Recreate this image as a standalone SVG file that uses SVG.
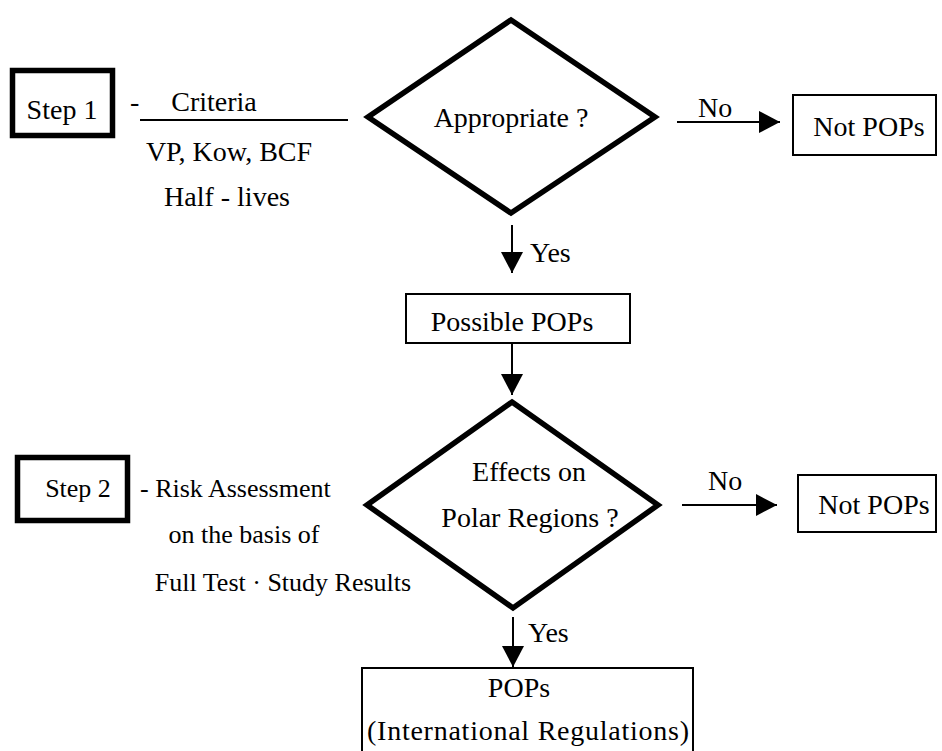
<svg xmlns="http://www.w3.org/2000/svg" width="942" height="751" viewBox="0 0 942 751">
<style>
.t28{font-size:28px}
.t26{font-size:26px}
.c{text-anchor:middle}
.thick{fill:#fff;stroke:#000;stroke-width:5.5}
.box{fill:#fff;stroke:#000;stroke-width:2}
.con{stroke:#000;stroke-width:2;fill:none}
</style>
<defs>
<marker id="ah" markerUnits="userSpaceOnUse" markerWidth="22" markerHeight="22" refX="21" refY="11" orient="auto">
<path d="M0,0 L21,11 L0,22 z" fill="#000"/>
</marker>
</defs>
<rect width="942" height="751" fill="#fff"/>
<g font-family="'Liberation Serif', 'Times New Roman', serif" fill="#000">
<g id="step1">
<rect class="thick" x="12.5" y="70.5" width="100" height="65"/>
<text class="t28 c" x="62" y="119">Step 1</text>
</g>
<g id="criteria">
<text class="t28" x="130" y="111">-</text>
<text class="t28 c" x="214" y="111">Criteria</text>
<line x1="140" y1="120" x2="348" y2="120" stroke="#000" stroke-width="2"/>
<text class="t28 c" x="229" y="161">VP, Kow, BCF</text>
<text class="t28 c" x="227" y="206">Half - lives</text>
</g>
<g id="appropriate">
<polygon class="thick" points="511,20 655,117 511,213 368,117"/>
<text class="t28 c" x="511" y="127">Appropriate ?</text>
</g>
<g id="notpops1">
<rect class="box" x="793" y="95" width="143" height="60"/>
<text class="t28 c" x="869" y="136">Not POPs</text>
</g>
<g id="possible">
<rect class="box" x="406" y="294" width="224" height="49"/>
<text class="t28 c" x="512" y="331">Possible POPs</text>
</g>
<g id="step2">
<rect class="thick" x="17.5" y="457.5" width="110" height="63"/>
<text class="t26 c" x="78" y="497">Step 2</text>
</g>
<g id="risk">
<text class="t26" x="140" y="497">- Risk Assessment</text>
<text class="t26 c" x="244" y="543">on the basis of</text>
<text class="t26 c" x="283" y="591">Full Test · Study Results</text>
</g>
<g id="effects">
<polygon class="thick" points="512,402 658,505 513,608 367,505"/>
<text class="t28 c" x="529" y="481">Effects on</text>
<text class="t28 c" x="530" y="527">Polar Regions ?</text>
</g>
<g id="notpops2">
<rect class="box" x="798" y="475" width="138" height="57"/>
<text class="t28 c" x="874" y="514">Not POPs</text>
</g>
<g id="pops">
<rect class="box" x="362" y="668" width="331" height="100"/>
<text class="t28 c" x="519" y="697">POPs</text>
<text class="t28" x="367" y="740" textLength="322" lengthAdjust="spacing">(International Regulations)</text>
</g>
<g id="connectors">
<line class="con" x1="512" y1="225" x2="512" y2="273" marker-end="url(#ah)"/>
<line class="con" x1="512" y1="343" x2="512" y2="395" marker-end="url(#ah)"/>
<line class="con" x1="677" y1="122" x2="780" y2="122" marker-end="url(#ah)"/>
<line class="con" x1="682" y1="505" x2="777" y2="505" marker-end="url(#ah)"/>
<line class="con" x1="513" y1="617" x2="513" y2="667" marker-end="url(#ah)"/>
<text class="t28" x="530" y="262">Yes</text>
<text class="t28" x="698" y="117">No</text>
<text class="t28" x="708" y="490">No</text>
<text class="t28" x="528" y="642">Yes</text>
</g>
</g>
</svg>
